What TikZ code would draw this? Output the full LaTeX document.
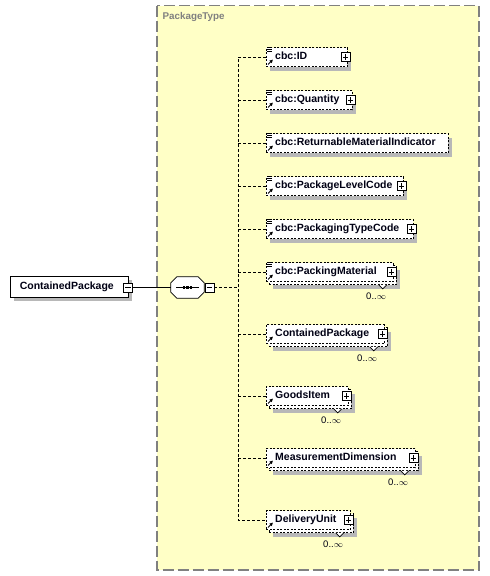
\documentclass[tikz,border=0pt]{standalone}
\usepackage{fontspec}
\setmainfont{Liberation Sans}
\usetikzlibrary{shadows,arrows.meta}
\definecolor{bgyellow}{HTML}{FFFFC6}
\definecolor{shgray}{HTML}{B8B8B8}
\definecolor{framegray}{HTML}{808080}
\definecolor{txt}{HTML}{000014}
\newcommand\DocIcon[1]{%
  \fill[white] ([shift={(0.6,0)}]#1.north west) rectangle ++(5.6,5.4);
  \foreach \dy in {0.6,2.6,4.6}
    {\draw[line width=0.7pt] ([shift={(1.2,\dy)}]#1.north west) -- ++(4.6,0);}}
\newcommand\RefIcon[1]{%
  \draw[line width=1pt,-{Latex[length=3.4pt,width=3.8pt]}] ([shift={(2,-2.4)}]#1.south west) -- ++(5,-5);}
\newcommand\Notch[1]{%
  \draw[fill=white,line width=0.6pt] ([shift={(-15,3)}]#1.south east) -- ([shift={(-11,7)}]#1.south east) -- ([shift={(-7,3)}]#1.south east);}
\newcommand\OctPath[2]{% node, chamfer
  ([shift={(#2,0)}]#1.north west) -- ([shift={(-#2,0)}]#1.north east) -- ([shift={(0,#2)}]#1.north east)
  -- ([shift={(0,-#2)}]#1.south east) -- ([shift={(-#2,0)}]#1.south east) -- ([shift={(#2,0)}]#1.south west)
  -- ([shift={(0,-#2)}]#1.south west) -- ([shift={(0,#2)}]#1.north west) -- cycle}
\begin{document}
\begin{tikzpicture}[x=1pt,y=-1pt,
  typebox/.style={draw=framegray,line width=1.3pt,dash pattern=on 11pt off 4pt,fill=bgyellow},
  typelabel/.style={font=\bfseries\fontsize{9.8}{11}\selectfont,text=framegray,anchor=west,inner sep=0pt},
  elembase/.style={draw=black,line width=0.75pt,dash pattern=on 2pt off 1.5pt,fill=white,
    minimum height=19pt,inner sep=0pt,anchor=west},
  single/.style={elembase,general shadow={shadow xshift=4pt,shadow yshift=-4pt,fill=shgray,draw=none}},
  multi/.style={elembase,
    general shadow={shadow xshift=7pt,shadow yshift=-7pt,fill=shgray,draw=none},
    general shadow={shadow xshift=3pt,shadow yshift=-3pt,fill=white,draw=black,line width=0.75pt,dash pattern=on 2pt off 1.5pt}},
  rootbox/.style={draw=black,line width=0.75pt,fill=white,minimum width=118pt,minimum height=21pt,inner sep=0pt,
    general shadow={shadow xshift=4pt,shadow yshift=-4pt,fill=shgray,draw=none}},
  lbl/.style={font=\bfseries\fontsize{10.5}{12}\selectfont,text=txt,anchor=west,inner sep=0pt,text height=7.8pt,text depth=2.2pt},
  occ/.style={font=\fontsize{9.5}{10}\selectfont,text=txt,anchor=east,inner sep=0pt},
  sq/.style={draw=black,solid,line width=0.6pt,fill=white,minimum size=9pt,inner sep=0pt},
  plusbox/.style={sq,path picture={\draw[line width=0.6pt]
      ([xshift=-2.6pt]path picture bounding box.center) -- ([xshift=2.6pt]path picture bounding box.center)
      ([yshift=-2.6pt]path picture bounding box.center) -- ([yshift=2.6pt]path picture bounding box.center);}},
  minusbox/.style={sq,path picture={\draw[line width=0.6pt]
      ([xshift=-2.6pt]path picture bounding box.center) -- ([xshift=2.6pt]path picture bounding box.center);}},
  seqbox/.style={rectangle,draw=none,minimum width=33pt,minimum height=21pt,inner sep=0pt},
  octo/.style={draw=black,line width=0.75pt,fill=white},
  conn/.style={line width=0.8pt,dash pattern=on 3pt off 2pt},
  solidconn/.style={line width=0.8pt}]
\useasboundingbox (0,0) rectangle (490,576);
% complex type frame
\draw[typebox] (157,5.5) rectangle (479,570);
\node[typelabel] (ptype) at (162.5,17) {PackageType};
\coordinate (bus) at (238,287.5);

% root element and sequence
\node[rootbox] (root) at (69,286.5) {};
\node[lbl] (rootlbl) at ([xshift=10pt]root.west) {ContainedPackage};
\node[minusbox] (rootm) at (128,287.5) {};
\node[seqbox] (seq) at (187.5,287.5) {};
\begin{scope}[shift={(4,4)}]
  \fill[shgray] \OctPath{seq}{6};
\end{scope}
\draw[octo] \OctPath{seq}{6};
\draw[line width=0.9pt] ([xshift=5.5pt]seq.west) -- ([xshift=-5.5pt]seq.east);
\foreach \dx in {-3.6,0,3.6}
  {\fill ([xshift=\dx pt]seq.center) ++(-1.3,-1.3) rectangle ++(2.6,2.6);}
\node[minusbox] (seqm) at (209.5,287.5) {};
\draw[solidconn] (rootm.east) -- (seq.west);

% child elements
\node[single,minimum width=81pt] (id) at (266,57) {};
\node[single,minimum width=86pt] (qty) at (266,100) {};
\node[single,minimum width=182pt] (ret) at (266,143) {};
\node[single,minimum width=137pt] (plc) at (266,186) {};
\node[single,minimum width=147pt] (ptc) at (266,229) {};
\node[multi,minimum width=127pt] (pm) at (266,272) {};
\node[multi,minimum width=118pt] (cp) at (266,334) {};
\node[multi,minimum width=82pt] (gi) at (266,396) {};
\node[multi,minimum width=149pt] (md) at (266,458) {};
\node[multi,minimum width=84pt] (du) at (266,520) {};

% connectors
\draw[conn] (seqm.east) -- (bus);
\draw[conn] (id.west) -- (id.west -| bus) -- (du.west -| bus) -- (du.west);
\foreach \n in {qty,ret,plc,ptc,pm,cp,gi,md}
  {\draw[conn] (\n.west -| bus) -- (\n.west);}

% labels
\node[lbl] (idl) at ([xshift=9pt]id.west) {cbc:ID};
\node[lbl] (qtyl) at ([xshift=9pt]qty.west) {cbc:Quantity};
\node[lbl] (retl) at ([xshift=9pt]ret.west) {cbc:ReturnableMaterialIndicator};
\node[lbl] (plcl) at ([xshift=9pt]plc.west) {cbc:PackageLevelCode};
\node[lbl] (ptcl) at ([xshift=9pt]ptc.west) {cbc:PackagingTypeCode};
\node[lbl] (pml) at ([xshift=9pt]pm.west) {cbc:PackingMaterial};
\node[lbl] (cpl) at ([xshift=9pt]cp.west) {ContainedPackage};
\node[lbl] (gil) at ([xshift=9pt]gi.west) {GoodsItem};
\node[lbl] (mdl) at ([xshift=9pt]md.west) {MeasurementDimension};
\node[lbl] (dul) at ([xshift=9pt]du.west) {DeliveryUnit};

% icons
\foreach \n in {id,qty,ret,plc,ptc,pm} {\DocIcon{\n}}
\foreach \n in {id,qty,ret,plc,ptc,pm,cp,gi,md,du} {\RefIcon{\n}}
\foreach \n in {pm,cp,gi,md,du} {\Notch{\n}}

% expand boxes
\foreach \n in {id,qty,plc,ptc,pm,cp,gi,md,du}
  {\node[plusbox] (\n p) at ([xshift=-2pt]\n.east) {};}

% occurrences
\foreach \n in {pm,cp,gi,md,du}
  {\node[occ] (\n o) at ([shift={(-7.5,14.5)}]\n.south east) {0..$\infty$};}
\end{tikzpicture}
\end{document}
